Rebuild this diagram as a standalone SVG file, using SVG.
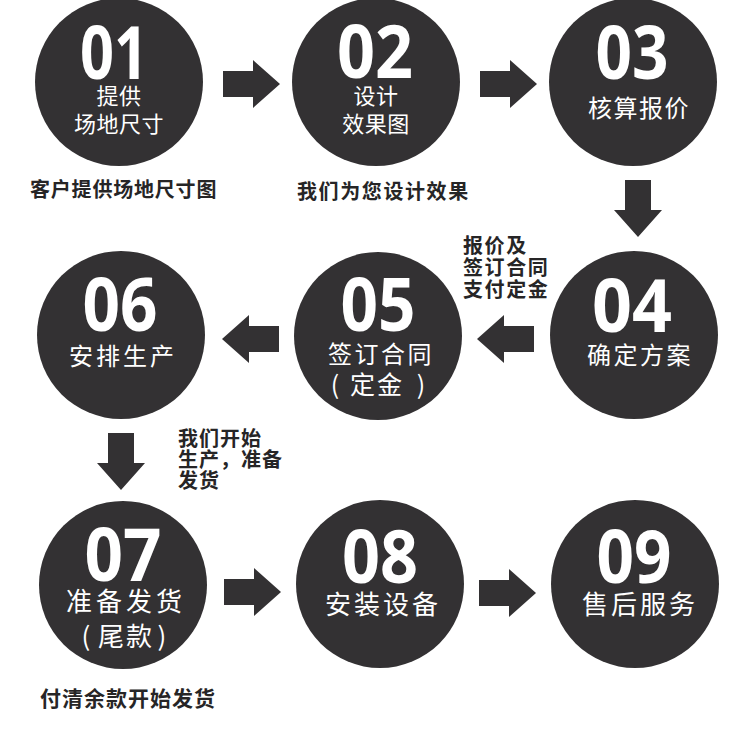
<svg xmlns="http://www.w3.org/2000/svg" xmlns:xlink="http://www.w3.org/1999/xlink" width="750" height="738" viewBox="0 0 750 738">
<style>
.c{fill:#333133}
.num{font-family:"Open Sans","Liberation Sans",sans-serif;font-weight:700;font-size:74px;fill:#fff;text-anchor:middle}
.in{font-family:"Noto Sans CJK SC","Noto Sans",sans-serif;fill:#fff;text-anchor:middle}
.s1{font-size:22px;letter-spacing:0.5px}
.s2{font-size:24px;letter-spacing:2.5px}
.s3{font-size:26px;letter-spacing:3px}
.lbl{font-family:"Noto Sans CJK SC","Noto Sans",sans-serif;font-weight:700;fill:#262526;font-size:20px}
.arrow{fill:#333133}
</style>
<defs>
<path id="arr" d="M0,-13 H30 V-24 L57,0 L30,24 V13 H0 Z"/>
</defs>
<rect width="750" height="738" fill="#fff"/>
<g id="connectors" class="arrow">
<use href="#arr" xlink:href="#arr" transform="translate(223,84)"/>
<use href="#arr" xlink:href="#arr" transform="translate(480,84)"/>
<use href="#arr" xlink:href="#arr" transform="translate(638,180) rotate(90)"/>
<use href="#arr" xlink:href="#arr" transform="translate(534,339) scale(-1,1)"/>
<use href="#arr" xlink:href="#arr" transform="translate(279,339) scale(-1,1)"/>
<use href="#arr" xlink:href="#arr" transform="translate(121,433) rotate(90)"/>
<use href="#arr" xlink:href="#arr" transform="translate(224,592)"/>
<use href="#arr" xlink:href="#arr" transform="translate(479,593)"/>
</g>
<g id="n01">
<circle class="c" cx="119" cy="82" r="84"/>
<text class="num" x="114" y="79" textLength="68" lengthAdjust="spacingAndGlyphs">01</text>
<text class="in s1" x="119" y="104">提供</text>
<text class="in s1" x="119" y="132">场地尺寸</text>
</g>
<g id="n02">
<circle class="c" cx="376" cy="82" r="84"/>
<text class="num" x="375" y="78" textLength="76" lengthAdjust="spacingAndGlyphs">02</text>
<text class="in s1" x="376" y="104">设计</text>
<text class="in s1" x="376" y="132">效果图</text>
</g>
<g id="n03">
<circle class="c" cx="633" cy="82" r="84"/>
<text class="num" x="632" y="79" textLength="73" lengthAdjust="spacingAndGlyphs">03</text>
<text class="in" x="639" y="117" style="font-size:24px;letter-spacing:1.5px">核算报价</text>
</g>
<g id="n04">
<circle class="c" cx="634" cy="335" r="84"/>
<text class="num" x="632" y="332" textLength="80" lengthAdjust="spacingAndGlyphs">04</text>
<text class="in s2" x="640" y="364">确定方案</text>
</g>
<g id="n05">
<circle class="c" cx="378" cy="336" r="84"/>
<text class="num" x="378" y="331" textLength="75" lengthAdjust="spacingAndGlyphs">05</text>
<text class="in s2" x="381" y="363">签订合同</text>
<text class="in" y="394" style="font-size:25px"><tspan x="335">(</tspan><tspan x="377" style="letter-spacing:2px">定金</tspan><tspan x="421">)</tspan></text>
</g>
<g id="n06">
<circle class="c" cx="121" cy="335" r="84"/>
<text class="num" x="120" y="331" textLength="75" lengthAdjust="spacingAndGlyphs">06</text>
<text class="in s2" x="123" y="365" style="letter-spacing:3px">安排生产</text>
</g>
<g id="n07">
<circle class="c" cx="123" cy="585" r="84"/>
<text class="num" x="123" y="581" textLength="77" lengthAdjust="spacingAndGlyphs">07</text>
<text class="in s3" x="126" y="611" style="letter-spacing:4px">准备发货</text>
<text class="in" y="646" style="font-size:26px"><tspan x="86">(</tspan><tspan x="126" style="letter-spacing:2px">尾款</tspan><tspan x="162">)</tspan></text>
</g>
<g id="n08">
<circle class="c" cx="380" cy="584" r="84"/>
<text class="num" x="380" y="583" textLength="76" lengthAdjust="spacingAndGlyphs">08</text>
<text class="in s3" x="383" y="614">安装设备</text>
</g>
<g id="n09">
<circle class="c" cx="635" cy="584" r="84"/>
<text class="num" x="634" y="583" textLength="75" lengthAdjust="spacingAndGlyphs">09</text>
<text class="in s3" x="640" y="614">售后服务</text>
</g>
<g id="labels">
<text class="lbl" x="30" y="197" style="letter-spacing:0.8px">客户提供场地尺寸图</text>
<text class="lbl" x="297" y="199" style="letter-spacing:1.6px">我们为您设计效果</text>
<text class="lbl" x="463" y="253" style="letter-spacing:1.6px">报价及</text>
<text class="lbl" x="463" y="275" style="letter-spacing:1.6px">签订合同</text>
<text class="lbl" x="463" y="297" style="letter-spacing:1.6px">支付定金</text>
<text class="lbl" x="178" y="446" style="letter-spacing:1px">我们开始</text>
<text class="lbl" x="178" y="467" style="letter-spacing:1px">生产，准备</text>
<text class="lbl" x="178" y="488" style="letter-spacing:1px">发货</text>
<text class="lbl" x="40" y="706" style="font-size:21px;letter-spacing:1px">付清余款开始发货</text>
</g>
</svg>
